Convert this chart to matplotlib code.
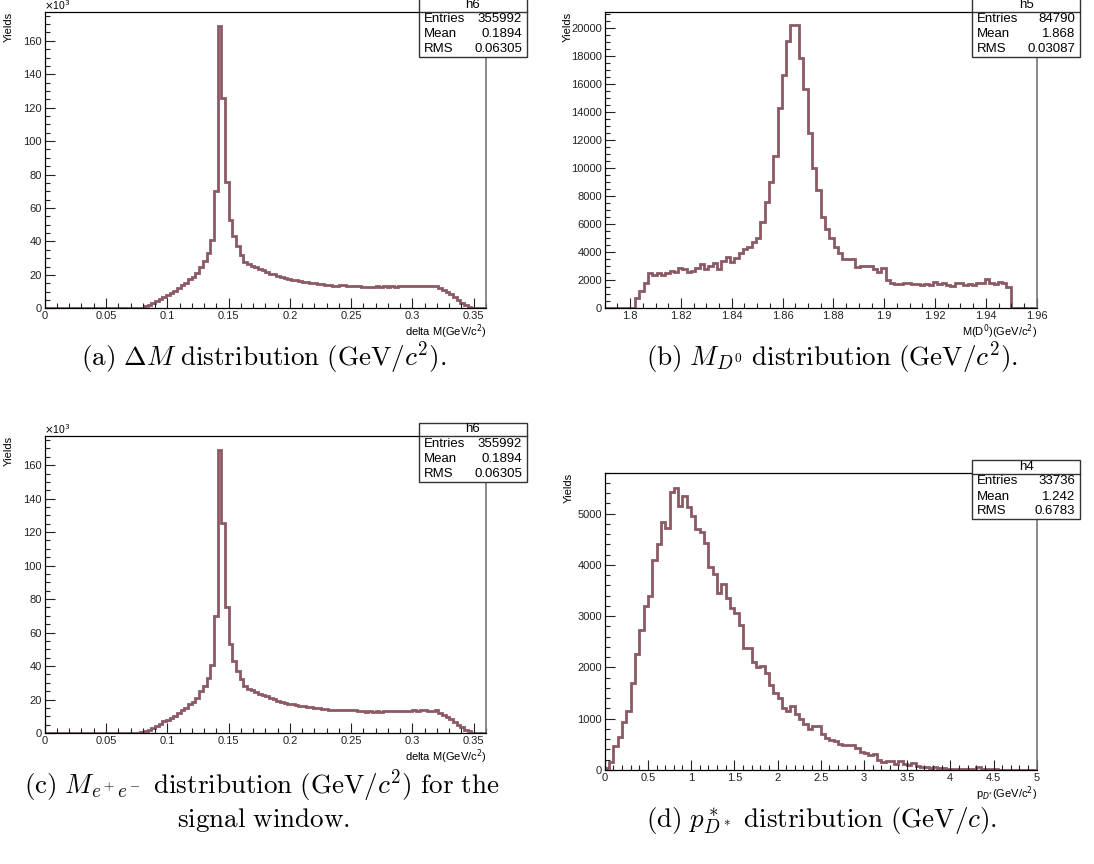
import numpy as np
import matplotlib
matplotlib.use('Agg')
import matplotlib.pyplot as plt
from matplotlib.ticker import MultipleLocator, FuncFormatter
from matplotlib.lines import Line2D
from matplotlib.patches import Rectangle

#---------------------------------------------------------------
# four ROOT style histograms with stat boxes + latex-like captions
#---------------------------------------------------------------

W, H = 1094, 864
LINE = '#8b5a64'

# delta M histogram (a) and (c), 120 bins 0 .. 0.36, yields in 10^3
dm_range = (0.0, 0.36)
dm_yields = [0] * 26 + [
    0.4, 1.2, 2.0, 3.0, 4.4, 5.4, 7.0, 8.0, 9.0, 10.3,
    12.0, 14.0, 15.0, 17.3, 18.5, 21.0, 25.0, 28.0, 33.0, 40.7,
    70.0, 169.0, 125.5, 75.5, 53.0, 43.0, 37.0, 32.0, 27.8, 26.4,
    25.5, 24.5, 23.4, 22.8, 22.0, 20.8, 20.3, 19.3, 18.8, 18.2,
    17.5, 17.2, 16.9, 16.3, 15.9, 15.6, 15.3, 15.0, 14.7, 14.5,
    14.2, 13.7, 13.5, 13.5, 13.7, 13.8, 13.6, 13.6, 13.5, 13.4,
    13.0, 12.7, 12.9, 12.6, 13.2, 12.8, 13.3, 13.0, 13.1, 13.0,
    13.1, 13.2, 13.4, 13.3, 13.5, 13.4, 13.5, 13.5, 13.3, 13.4,
    13.5, 12.2, 11.0, 9.8, 8.3, 6.6, 5.0, 3.4, 2.0, 0.9,
    0.2] + [0] * 3
dm_stats = ('h6', '355992', '0.1894', '0.06305')

# M(D0) histogram (b), 100 bins 1.79 .. 1.96
md_range = (1.79, 1.96)
md_yields = [0] * 7 + [
    760, 1260, 1780,
    2540, 2380, 2490, 2400, 2540, 2680, 2610, 2900, 2780, 2560,
    2680, 2850, 3140, 2830, 3020, 3250, 2780, 3370, 3630, 3300,
    3560, 3920, 4200, 4390, 4750, 4990, 6180, 7600, 9030, 10850,
    14250, 16630, 19070, 20190, 20190, 17810, 15600, 12470, 10020, 8430,
    6480, 5630, 4990, 4390, 3920, 3490, 3490, 3490, 2970, 3040,
    3040, 3040, 2780, 2610, 2850, 2020, 1780, 1730, 1730, 1780,
    1780, 1730, 1730, 1660, 1730, 1660, 1900, 1730, 1830, 1660,
    1590, 1780, 1830, 1660, 1730, 1660, 1780, 1780, 2070, 1780,
    1730, 1900, 1830, 1540] + [0] * 6
md_stats = ('h5', '84790', '1.868', '0.03087')

# p*_D histogram (d), 100 bins 0 .. 5
pd_range = (0.0, 5.0)
pd_yields = [
    30, 160, 460, 650, 940, 1150, 1690, 2270, 2730, 3190,
    3390, 4100, 4410, 4830, 4720, 5420, 5510, 5150, 5340, 5130,
    4960, 4710, 4650, 4430, 3970, 3830, 3450, 3630, 3350, 3160,
    3070, 2830, 2380, 2380, 2100, 2000, 2030, 1900, 1650, 1500,
    1400, 1200, 1150, 1250, 1100, 1000, 900, 800, 860, 860,
    700, 630, 590, 560, 500, 490, 490, 480, 420, 345,
    325, 290, 310, 190, 160, 180, 170, 120, 180, 120,
    100, 130, 80, 65, 60, 35, 65, 40, 35, 20,
    15, 15, 12, 15, 10, 15, 50, 15, 15, 10,
    15, 5, 5, 5, 5, 5, 5, 5, 5, 5]
pd_stats = ('h4', '33736', '1.242', '0.6783')

captions = [
    r'$\mathrm{(a)}\ \Delta M\ \mathrm{distribution\ (GeV/}c^2\mathrm{).}$',
    r'$\mathrm{(b)}\ M_{D^0}\ \mathrm{distribution\ (GeV/}c^2\mathrm{).}$',
    r'$\mathrm{(c)}\ M_{e^+e^-}\ \mathrm{distribution\ (GeV/}c^2\mathrm{)\ for\ the}$',
    r'$\mathrm{signal\ window.}$',
    r'$\mathrm{(d)}\ p^*_{D^*}\ \mathrm{distribution\ (GeV/}c\mathrm{).}$',
]

plt.rcParams['font.family'] = ['Liberation Sans', 'DejaVu Sans']
fig = plt.figure(figsize=(W / 100, H / 100), dpi=100)


def fx(x):
    return x / W


def fy(y):
    return 1 - y / H


def make_axes(l, t, r, b):
    return fig.add_axes([fx(l), fy(b), (r - l) / W, (b - t) / H])


def draw_hist(ax, yields, rng, ymax, xmaj, xmin, ymaj, ymin, xlabel, ylx):
    edges = np.linspace(rng[0], rng[1], len(yields) + 1)
    ax.stairs(yields, edges, color=LINE, lw=2.0, baseline=0)
    ax.set_xlim(rng)
    ax.set_ylim(0, ymax)
    ax.xaxis.set_major_locator(MultipleLocator(xmaj))
    ax.xaxis.set_minor_locator(MultipleLocator(xmin))
    ax.yaxis.set_major_locator(MultipleLocator(ymaj))
    ax.yaxis.set_minor_locator(MultipleLocator(ymin))
    fmt = FuncFormatter(lambda v, p: '%g' % round(v, 6))
    ax.xaxis.set_major_formatter(fmt)
    ax.yaxis.set_major_formatter(fmt)
    ax.tick_params(which='both', direction='in', top=False, right=False,
                   labelsize=8, width=0.8, colors='#222222')
    ax.tick_params(which='major', length=7, pad=2)
    ax.tick_params(which='minor', length=3.5)
    for s in ('left', 'bottom', 'top'):
        ax.spines[s].set_linewidth(0.9)
    ax.spines['right'].set_color('#777777')
    ax.spines['right'].set_linewidth(1.2)
    ax.set_xlabel(xlabel, fontsize=8, loc='right', labelpad=1)
    ax.set_ylabel('Yields', fontsize=8, loc='top')
    ax.yaxis.set_label_coords(ylx, 1.0)


def stats_box(l, t, r, b, sep, name, entries, mean, rms):
    fig.patches.append(Rectangle((fx(l), fy(b)), (r - l) / W, (b - t) / H,
                                 transform=fig.transFigure, fill=True,
                                 facecolor='white', edgecolor='#333333',
                                 lw=1.0, zorder=5))
    fig.lines.append(Line2D([fx(l), fx(r)], [fy(sep), fy(sep)],
                            transform=fig.transFigure, color='#333333',
                            lw=1.0, zorder=6))
    fig.text(fx((l + r) / 2), fy((t + sep) / 2), name, ha='center',
             va='center', fontsize=9.5, zorder=7)
    rows = [('Entries', entries), ('Mean', mean), ('RMS', rms)]
    dy = (b - sep) / 3
    for i, (k, v) in enumerate(rows):
        yy = sep + dy * (i + 0.5)
        fig.text(fx(l + 5), fy(yy), k, ha='left', va='center',
                 fontsize=9.5, zorder=7)
        fig.text(fx(r - 5), fy(yy), v, ha='right', va='center',
                 fontsize=9.5, zorder=7)


dm_label = r'delta M(GeV/c$^{2}$)'

# (a)
ax_a = make_axes(44.7, 11.7, 486, 308.3)
draw_hist(ax_a, dm_yields, dm_range, 177.4, 0.05, 0.01, 20, 5, dm_label,
          -0.07)
fig.text(fx(44), fy(10), r'$\times$10$^{3}$', fontsize=7.5, ha='left',
         va='baseline')
stats_box(419, -2, 527, 57, 11.7, *dm_stats)

# (b)
ax_b = make_axes(604.7, 11.7, 1036.7, 308.3)
draw_hist(ax_b, md_yields, md_range, 21140, 0.02, 0.005, 2000, 500,
          r'M(D$^{0}$)(GeV/c$^{2}$)', -0.075)
stats_box(972, -2, 1080, 57, 11.7, *md_stats)

# (c)
ax_c = make_axes(44.7, 436, 486, 733)
draw_hist(ax_c, dm_yields, dm_range, 177.4, 0.05, 0.01, 20, 5, dm_label,
          -0.07)
fig.text(fx(44), fy(434), r'$\times$10$^{3}$', fontsize=7.5, ha='left',
         va='baseline')
stats_box(419, 423, 527, 482, 436, *dm_stats)

# (d)
ax_d = make_axes(604.7, 472.7, 1036.7, 770)
draw_hist(ax_d, pd_yields, pd_range, 5800, 0.5, 0.1, 1000, 200,
          r'p$_{D^{*}}$(GeV/c$^{2}$)', -0.072)
stats_box(972, 460, 1080, 519, 474, *pd_stats)

# captions
cap_pos = [(264, 358), (832, 358), (262, 786), (264, 820), (822, 820)]
for txt, (cx, cy) in zip(captions, cap_pos):
    fig.text(fx(cx), fy(cy), txt, ha='center', va='center', fontsize=19.5,
             math_fontfamily='cm')

fig.savefig('out.png', dpi=100)
